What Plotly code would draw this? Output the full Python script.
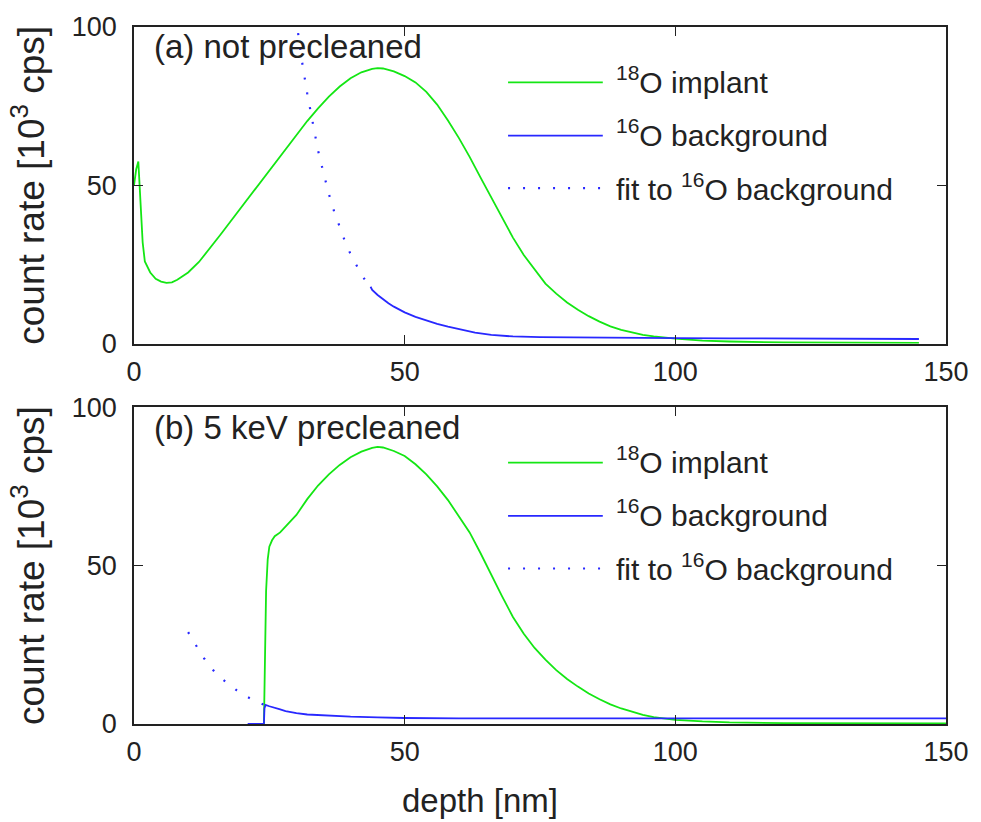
import plotly.graph_objects as go
from plotly.subplots import make_subplots

# ---------------- data ----------------
# (a) not precleaned
a_impl_x = [0, 0.4, 0.8, 1.2, 1.6, 2, 3, 4, 5, 6, 7, 8, 10, 12, 14, 16, 18, 20, 22, 24,
            26, 28, 30, 32, 34, 36, 38, 40, 42, 44, 45, 46, 48, 50, 52, 54, 56, 58, 60,
            62, 64, 66, 68, 70, 72, 74, 76, 78, 80, 82, 84, 86, 88, 90, 92, 94, 96, 98,
            100, 105, 110, 120, 130, 140, 145]
a_impl_y = [50, 55, 57.5, 45, 32, 26, 22.5, 20.5, 19.6, 19.2, 19.4, 20.2, 22.5, 25.8, 30,
            34.5, 39, 43.5, 48, 52.5, 57, 61.5, 66, 70.3, 74.3, 78, 81.2, 83.8, 85.7, 86.8,
            87, 86.9, 86, 84.5, 82.5, 79.5, 75.5, 70.5, 65, 59, 52.5, 46, 39.5, 33.5, 28,
            23.3, 19, 15.8, 13, 10.7, 8.7, 7, 5.5, 4.4, 3.5, 2.8, 2.3, 1.9, 1.6, 1.0, 0.7,
            0.4, 0.3, 0.3, 0.3]

a_bg_x = [43.7, 44, 45, 46, 47, 48, 50, 52, 54, 56, 58, 60, 63, 66, 70, 75, 80, 90, 100,
          110, 120, 130, 140, 145]
a_bg_y = [18, 17, 15.4, 14, 12.8, 11.7, 9.9, 8.5, 7.3, 6.3, 5.4, 4.7, 3.5, 2.8, 2.3, 2.1,
          2.0, 1.9, 1.8, 1.7, 1.7, 1.6, 1.6, 1.5]

a_fit_x = [28, 29, 30, 31, 32, 33, 34, 35, 36, 37, 38, 39, 40, 41, 42, 43, 43.7]
a_fit_y = [131, 115, 102, 89.5, 79, 69.5, 61, 54, 47.3, 41.6, 36.6, 32.2, 28.3, 24.9,
           21.9, 19.3, 18]

# (b) 5 keV precleaned
b_impl_x = [24, 24.2, 24.4, 24.7, 25, 25.5, 26, 27, 28, 29, 30, 32, 34, 36, 38, 40, 42,
            44, 45, 46, 48, 50, 52, 54, 56, 58, 60, 62, 64, 66, 68, 70, 72, 74, 76, 78,
            80, 82, 84, 86, 88, 90, 92, 94, 96, 98, 100, 105, 110, 120, 130, 140, 150]
b_impl_y = [0, 20, 42, 52, 56, 58, 59.3, 60.5, 62.3, 64, 66, 71, 75.3, 78.8, 81.8, 84.2,
            86, 87.2, 87.5, 87.3, 86.2, 84.6, 82, 78.8, 75, 70.7, 65.8, 60.5, 54, 47,
            40.3, 33.8, 28.5, 24, 20.3, 17, 14.2, 11.8, 9.6, 7.8, 6.2, 4.9, 3.8, 2.9, 2.2,
            1.7, 1.3, 0.8, 0.5, 0.3, 0.2, 0.2, 0.2]

b_bg_x = [21, 24.0, 24.1, 24.3, 25, 26, 27, 28, 30, 32, 34, 36, 40, 45, 50, 60, 80, 100,
          120, 150]
b_bg_y = [0, 0, 5, 6, 5.6, 5.0, 4.6, 4.1, 3.4, 3.0, 2.8, 2.6, 2.3, 2.1, 1.9, 1.8, 1.8,
          1.8, 1.8, 1.8]

b_fit_x = [10, 11, 12, 13, 14, 15, 16, 17, 18, 19, 20, 21, 22, 23, 24]
b_fit_y = [29, 26, 23.3, 20.6, 18.2, 16.2, 14.6, 13.2, 11.8, 10.6, 9.4, 8.4, 7.6, 6.8, 6.1]

x_ticks = [0, 50, 100, 150]
y_ticks = [0, 50, 100]
names = ["<sup>18</sup>O implant", "<sup>16</sup>O background",
         "fit to <sup>16</sup>O background"]
panel_labels = ["(a) not precleaned", "(b) 5 keV precleaned"]

GREEN = "rgb(20,230,20)"
BLUE = "rgb(40,40,255)"
FONT = "Liberation Sans, Arial, sans-serif"
TXT = "#222"

styles = [dict(color=GREEN, width=1.8),
          dict(color=BLUE, width=1.8),
          dict(color=BLUE, width=2.2, dash="2px,13px")]

fig = make_subplots(rows=2, cols=1, vertical_spacing=0.09)

panels = [
    (a_impl_x, a_impl_y, a_bg_x, a_bg_y, a_fit_x, a_fit_y),
    (b_impl_x, b_impl_y, b_bg_x, b_bg_y, b_fit_x, b_fit_y),
]
for i, (ix, iy, bx, by, fx, fy) in enumerate(panels, start=1):
    for (sx, sy), nm, st in zip([(ix, iy), (bx, by), (fx, fy)], names, styles):
        fig.add_trace(go.Scatter(x=sx, y=sy, mode="lines", name=nm, line=st,
                                 showlegend=False), row=i, col=1)

top_dom = [(724 - 341) / 702, 1.0]
bot_dom = [0.0, (724 - 405) / 702]

axis_common = dict(showline=True, linecolor=TXT, linewidth=1.5, mirror="allticks",
                   ticks="inside", ticklen=9, tickcolor=TXT, tickwidth=1.3,
                   showgrid=False, zeroline=False,
                   tickfont=dict(family=FONT, size=27, color=TXT))

fig.update_xaxes(range=[0, 150], tickvals=x_ticks, ticklabelstandoff=3, **axis_common)
fig.update_yaxes(range=[0, 100], tickvals=y_ticks, ticklabelstandoff=10,
                 title=dict(text="count rate [10<sup>3</sup> cps]",
                            font=dict(family=FONT, size=37, color=TXT), standoff=16),
                 **axis_common)
fig.update_yaxes(domain=top_dom, row=1, col=1)
fig.update_yaxes(domain=bot_dom, row=2, col=1)

# legend drawn inside each panel (long sample lines as in the original)
leg_line_x = [69.1, 86.6]
leg_line_y = [82.5, 65.7, 49.1]
leg_text_x = 88.6
leg_text_y = [83.2, 66.5, 49.6]
for i in (1, 2):
    xr = "x" if i == 1 else f"x{i}"
    yr = "y" if i == 1 else f"y{i}"
    for k in range(3):
        st = styles[k]
        fig.add_shape(type="line", xref=xr, yref=yr,
                      x0=leg_line_x[0], x1=leg_line_x[1],
                      y0=leg_line_y[k], y1=leg_line_y[k],
                      line=dict(color=st["color"], width=st["width"],
                                dash=st.get("dash", "solid")))
        fig.add_annotation(text=names[k], x=leg_text_x, y=leg_text_y[k], xref=xr, yref=yr,
                           xanchor="left", yanchor="middle", showarrow=False,
                           font=dict(family=FONT, size=30, color=TXT))
    fig.add_annotation(text=panel_labels[i - 1], x=3.3, y=93.7, xref=xr, yref=yr,
                       xanchor="left", yanchor="middle", showarrow=False,
                       font=dict(family=FONT, size=33, color=TXT))

fig.add_annotation(text="depth [nm]", x=64, xref="x2", y=-0.11, yref="paper",
                   xanchor="center", yanchor="middle", showarrow=False,
                   font=dict(family=FONT, size=33, color=TXT))

fig.update_layout(width=981, height=822, margin=dict(l=134, r=29, t=22, b=98),
                  plot_bgcolor="white", paper_bgcolor="white", showlegend=False)

fig.write_html("out.html")
